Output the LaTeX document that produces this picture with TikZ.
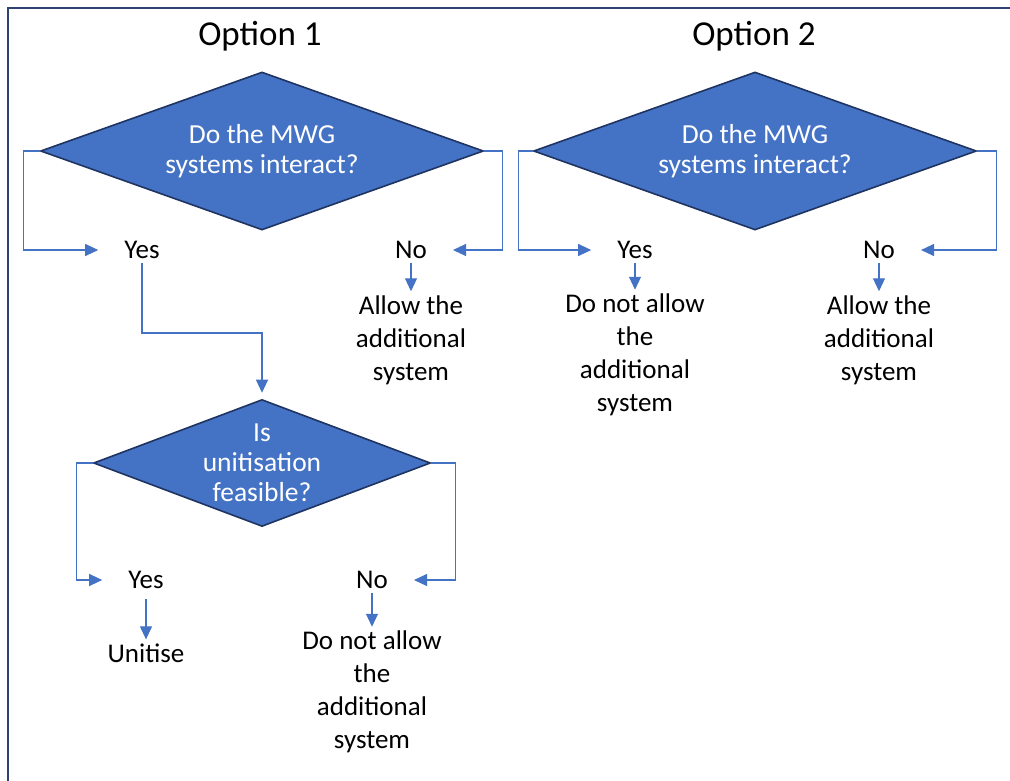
\documentclass[tikz,border=0pt]{standalone}
\usepackage{fontspec}
\setmainfont{Carlito}
\usepackage{tikz}
\usetikzlibrary{positioning}
\usetikzlibrary{shapes.geometric}
\usetikzlibrary{arrows.meta}
\definecolor{boxblue}{HTML}{4472C4}
\definecolor{edgeblue}{HTML}{1F3461}
\definecolor{frameblue}{HTML}{2E4373}
\tikzset{question/.style={diamond, draw=edgeblue, line width=1.6pt, fill=boxblue, text=white,
  inner sep=0pt, aspect=2.8, align=center, font=\fontsize{27.5}{30}\selectfont}}
\tikzset{answer/.style={align=center, inner sep=4pt, font=\fontsize{27}{33}\selectfont}}
\tikzset{choice/.style={answer, inner xsep=26pt}}
\tikzset{flow/.style={-{Triangle[length=13pt,width=12pt]}, draw=boxblue, line width=1.1pt}}

\begin{document}
\begin{tikzpicture}[x=1pt,y=-1pt]
\useasboundingbox (0,0) rectangle (1010,780);
%\fill[white] (0,0) rectangle (1010,780);
\draw[frameblue, line width=2pt] (8,820) -- (8,8) -- (1040,8);

\node[font=\fontsize{35}{40}\selectfont] (opt1) at (260,36) {Option 1};
\node[font=\fontsize{35}{40}\selectfont] (opt2) at (754,36) {Option 2};

% option 1
\node[question, minimum width=443pt, minimum height=158pt] (q1) at (262,151) {Do the MWG\\systems interact?};
\node[choice] (yes1) at (142,250) {Yes};
\node[choice] (no1) at (411,250) {No};
\node[answer] (allow1) at (411,340) {Allow the\\additional\\system};
\node[question, minimum width=337pt, minimum height=127pt] (q3) at (262,463) {Is\\unitisation\\feasible?};
\node[choice] (yes3) at (146,580) {Yes};
\node[choice] (no3) at (372,580) {No};
\node[answer] (unitise) at (146,653) {Unitise};
\node[answer] (notallow3) at (372,692) {Do not allow\\the\\additional\\system};

% option 2
\node[question, minimum width=443pt, minimum height=158pt] (q2) at (755,151) {Do the MWG\\systems interact?};
\node[choice] (yes2) at (635,250) {Yes};
\node[choice] (no2) at (879,250) {No};
\node[answer] (notallow2) at (635,355) {Do not allow\\the\\additional\\system};
\node[answer] (allow2) at (879,340) {Allow the\\additional\\system};

\draw[flow] (q1.west) -- ++(-16,0) |- (yes1);
\draw[flow] (q1.east) -- ++(18,0) |- (no1);
\draw[flow] (no1) -- (allow1);
\draw[flow] (yes1.south) -- ++(0,70) -| ([yshift=6pt]q3.north);
\draw[flow] (q3.west) -- ++(-16,0) |- (yes3);
\draw[flow] (q3.east) -- ++(24,0) |- (no3);
\draw[flow, shorten <=6pt] (yes3) -- (unitise);
\draw[flow] (no3) -- (notallow3);
\draw[flow] (q2.west) -- ++(-14,0) |- (yes2);
\draw[flow] (q2.east) -- ++(19,0) |- (no2);
\draw[flow] (yes2) -- (notallow2);
\draw[flow] (no2) -- (allow2);
\end{tikzpicture}
\end{document}
